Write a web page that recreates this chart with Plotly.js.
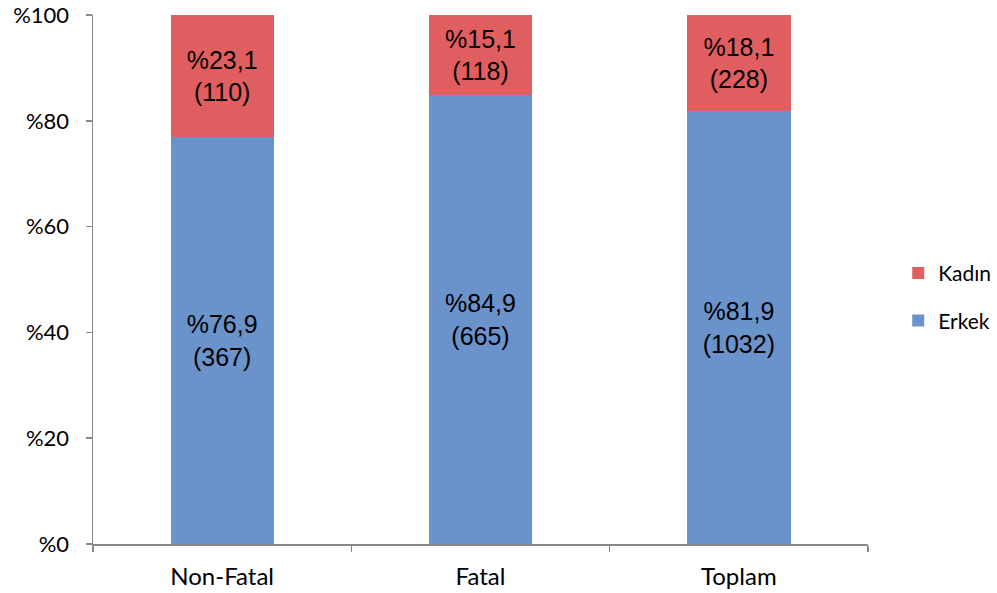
<!DOCTYPE html>
<html>
<head>
<meta charset="utf-8">
<script src="https://cdn.plot.ly/plotly-3.0.1.min.js"></script>
<style>html,body{margin:0;padding:0;background:#fff;}#chart{width:997px;height:593px;}</style>
</head>
<body>
<div id="chart"></div>
<script>
const categories = ["Non-Fatal", "Fatal", "Toplam"];
const erkekPct = [76.9, 84.9, 81.9];
const kadinPct = [23.1, 15.1, 18.1];
const erkekN = [367, 665, 1032];
const kadinN = [110, 118, 228];

function labels(pct, n) {
  return pct.map((p, i) => "%" + p.toFixed(1).replace(".", ",") + "<br>(" + n[i] + ")");
}

const labelFont = {family: "Liberation Sans, Arial, sans-serif", size: 25, color: "#000"};
const axFont = {family: "Lato, Open Sans, sans-serif", size: 22, color: "#000"};

const traces = [
  {
    type: "bar", name: "Erkek", x: categories, y: erkekPct,
    text: labels(erkekPct, erkekN), textposition: "inside", insidetextanchor: "middle",
    textfont: labelFont, insidetextfont: labelFont, constraintext: "none",
    marker: {color: "#6A93CC"}, hoverinfo: "none", legendrank: 2, legendgroup: "e"
  },
  {
    type: "bar", name: "Kadın", x: categories, y: kadinPct,
    text: labels(kadinPct, kadinN), textposition: "inside", insidetextanchor: "middle",
    textfont: labelFont, insidetextfont: labelFont, constraintext: "none",
    marker: {color: "#E05E5F"}, hoverinfo: "none", legendrank: 1, legendgroup: "k"
  }
];

const layout = {
  width: 997, height: 593,
  margin: {l: 93, r: 129, t: 15, b: 49, autoexpand: false},
  paper_bgcolor: "#fff", plot_bgcolor: "#fff",
  barmode: "stack",
  bargap: 0.6,
  font: axFont,
  xaxis: {
    type: "category",
    showline: true, linecolor: "#888", linewidth: 1.5,
    ticks: "outside", tickson: "boundaries", ticklen: 6, tickcolor: "#888", tickwidth: 1.5,
    tickfont: {family: "Lato, Open Sans, sans-serif", size: 24, color: "#000"}, ticklabelstandoff: 11,
    showgrid: false, zeroline: false
  },
  yaxis: {
    range: [0, 100], dtick: 20, tickprefix: "%",
    showline: true, linecolor: "#888", linewidth: 1.5,
    ticks: "outside", ticklen: 6, tickcolor: "#888", tickwidth: 1.5,
    tickfont: axFont, ticklabelstandoff: 12,
    showgrid: false, zeroline: false
  },
  showlegend: true,
  legend: {
    x: 1.039, xanchor: "left", y: 0.467, yanchor: "middle",
    traceorder: "grouped", tracegroupgap: 17,
    font: {family: "Lato, Open Sans, sans-serif", size: 21, color: "#000"},
    itemwidth: 30
  }
};

Plotly.newPlot("chart", traces, layout, {displayModeBar: false, staticPlot: true});
</script>
</body>
</html>
